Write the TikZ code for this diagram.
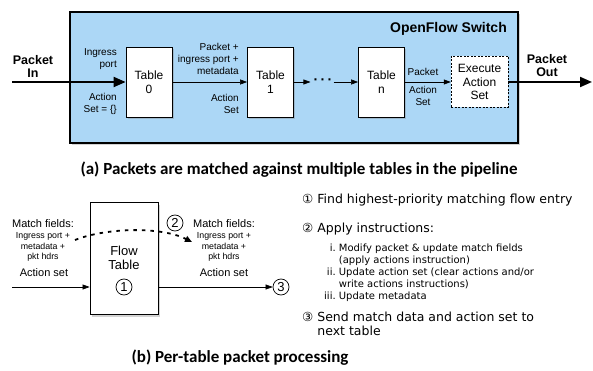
\documentclass[tikz,border=0pt]{standalone}
\usepackage{fontspec}
\setmainfont{Liberation Sans}
\newfontfamily\capfont{Carlito}
\newfontfamily\listfont{DejaVu Sans}
\usepackage{tikz}
\usetikzlibrary{calc,arrows.meta,shadows}
\definecolor{flowblue}{RGB}{172,215,246}
\newcommand{\fsz}[2]{\fontsize{#1}{#2}\selectfont}

\begin{document}
\begin{tikzpicture}[x=1pt,y=-1pt,
    tablebox/.style={draw, fill=white, line width=0.8pt, align=center, font=\fsz{12}{14},
        drop shadow={opacity=0.35, shadow xshift=1.5pt, shadow yshift=-2.5pt}},
    lbl/.style={align=right, inner sep=1pt, font=\fsz{10}{12}},
    small/.style={align=center, inner sep=1pt, font=\fsz{8.8}{10.2}},
    mid/.style={align=center, inner sep=1pt, font=\fsz{11}{13}},
    bold/.style={align=center, inner sep=1pt, font=\bfseries\fsz{12.5}{13}},
    numc/.style={circle, draw, line width=0.7pt, inner sep=0pt, minimum size=16pt, font=\fsz{13}{13}},
    thinarrow/.style={line width=0.6pt, -{Triangle[length=7pt,width=5pt]}},
    bigarrow/.style={line width=2pt, -{Triangle[length=12pt,width=10pt]}},
    dotarrow/.style={line width=1.8pt, dash pattern=on 3.5pt off 5pt, -{Triangle[length=7pt,width=6pt]}},
    caption/.style={font=\capfont\bfseries\fsz{17}{19}},
    listtxt/.style={anchor=west, inner sep=0pt, font=\listfont\fsz{12.5}{14}}]
  \useasboundingbox (0,0) rectangle (593,371);

  % (a) the switch pipeline
  \node[draw, line width=1.5pt, fill=flowblue, minimum width=448pt, minimum height=131pt,
        drop shadow={opacity=0.35, shadow xshift=1.5pt, shadow yshift=-2.5pt}] (switch) at (294,77.5) {};
  \node[anchor=east, inner sep=0pt, font=\bfseries\fsz{14}{16}] (title) at (507,29) {OpenFlow Switch};

  \node[tablebox, minimum width=46pt, minimum height=70pt] (tab0) at (149,82) {Table\\0};
  \node[tablebox, minimum width=46pt, minimum height=70pt] (tab1) at (270.5,82) {Table\\1};
  \node[tablebox, minimum width=46pt, minimum height=70pt] (tabn) at (381.5,82) {Table\\n};
  \node[draw, dashed, dash pattern=on 2pt off 1.5pt, fill=white, minimum width=57pt, minimum height=51pt,
        align=center, font=\fsz{12}{13.5}] (exec) at (479.5,82) {Execute\\Action\\Set};
  \node[inner sep=1pt, font=\bfseries\fsz{14}{14}] (dots) at (323,82) {·\,·\,·};

  \coordinate (pin) at (12,82);
  \coordinate (pout) at (592,82);
  \node[bold] (inlbl) at (33,66) {Packet\\In};
  \node[bold] (outlbl) at (547,66) {Packet\\Out};

  \draw[bigarrow] (pin) -- (tab0.west);
  \draw[thinarrow] (tab0.east) -- (tab1.west);
  \draw[thinarrow, shorten >=2pt] (tab1.east) -- (dots.west);
  \draw[thinarrow] (dots.east) -- (tabn.west);
  \draw[thinarrow] (tabn.east) -- (exec.west);
  \draw[bigarrow] (exec.east) -- (pout);

  \node[lbl, anchor=east] (ing0) at (118,59) {Ingress\\port};
  \node[lbl, anchor=east] (act0) at (118,104) {Action\\Set = \{\}};
  \node[lbl, anchor=east] (ing1) at (240,59) {Packet +\\ingress port +\\metadata};
  \node[lbl, anchor=east] (act1) at (240,104) {Action\\Set};
  \node[lbl, align=center] (pktn) at (423,72) {Packet};
  \node[lbl, align=center] (actn) at (423,96) {Action\\Set};

  \node[caption] (capa) at (299,170) {(a) Packets are matched against multiple tables in the pipeline};

  % (b) one table
  \node[tablebox, minimum width=68pt, minimum height=112pt] (flow) at (124,258) {};
  \node[align=center, inner sep=0pt, font=\fsz{13}{14}] (flowtxt) at (124,258) {Flow\\Table};
  \node[numc] (c1) at (124,287) {1};
  \node[numc] (c2) at (175,223) {2};
  \node[numc] (c3) at (281,287) {3};

  \node[mid] (mf0) at (43,224) {Match fields:};
  \node[small] (hd0) at (43,247) {Ingress port +\\metadata +\\pkt hdrs};
  \node[mid] (as0) at (44,273) {Action set};
  \node[mid] (mf1) at (224,224) {Match fields:};
  \node[small] (hd1) at (224,247) {Ingress port +\\metadata +\\pkt hdrs};
  \node[mid] (as1) at (224,273) {Action set};

  \coordinate (fin) at (12,287);
  \coordinate (mstart) at (75,240);
  \coordinate (mend) at (192,242);
  \draw[thinarrow] (fin) -- (fin -| flow.west);
  \draw[thinarrow] (c3 -| flow.east) -- (c3.west);
  \draw[dotarrow] (mstart) .. controls (105,228) and (160,226) .. (mend);

  \node[listtxt] (step1) at (302,200) {① Find highest-priority matching flow entry};
  \node[listtxt] (step2) at (302,229) {② Apply instructions:};
  \node[listtxt, font=\listfont\fsz{10}{12}] (sub2) at (324,273)
    {\begin{tabular}{@{}r@{\ }l@{}}
      i. & Modify packet \& update match fields\\
         & (apply actions instruction)\\
     ii. & Update action set (clear actions and/or\\
         & write actions instructions)\\
    iii. & Update metadata
     \end{tabular}};
  \node[listtxt] (step3) at (302,326)
    {\begin{tabular}{@{}l@{\ }l@{}}
      ③ & Send match data and action set to\\
        & next table
     \end{tabular}};

  \node[caption] (capb) at (240,358) {(b) Per-table packet processing};
\end{tikzpicture}
\end{document}
